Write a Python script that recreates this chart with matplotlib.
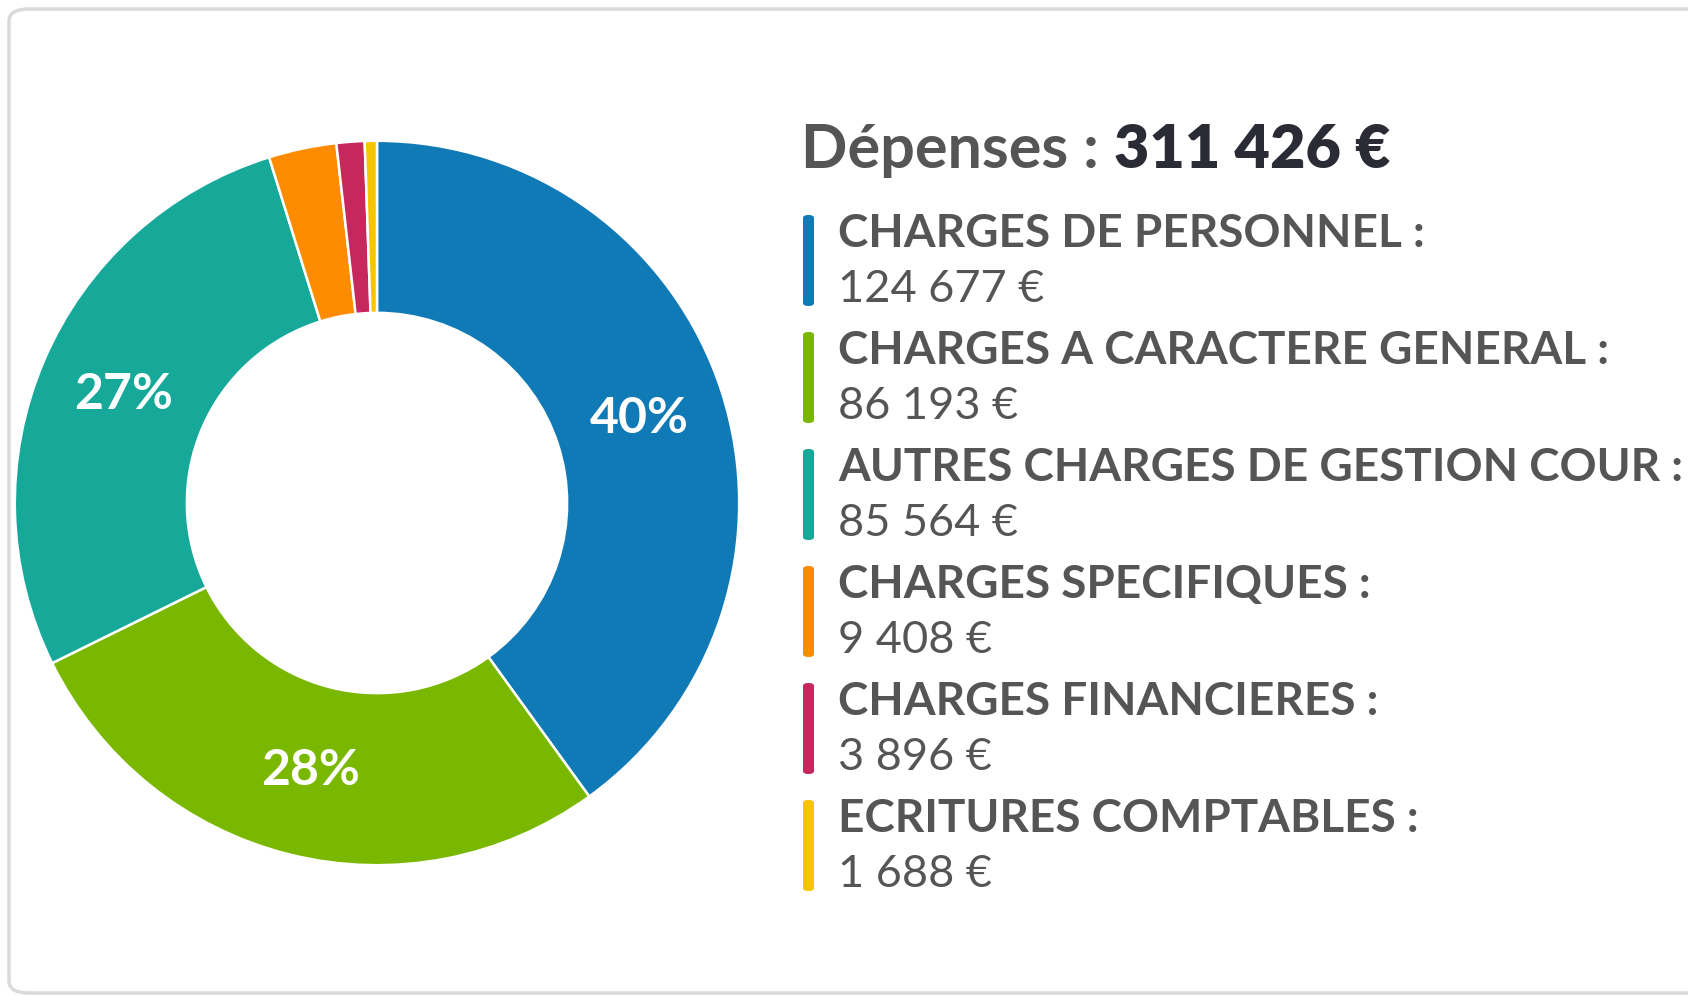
import matplotlib
matplotlib.use("Agg")
import matplotlib.pyplot as plt
from matplotlib.patches import FancyBboxPatch
import numpy as np

categories = ["CHARGES DE PERSONNEL", "CHARGES A CARACTERE GENERAL",
              "AUTRES CHARGES DE GESTION COUR", "CHARGES SPECIFIQUES",
              "CHARGES FINANCIERES", "ECRITURES COMPTABLES"]
values = [124677, 86193, 85564, 9408, 3896, 1688]
value_labels = ["124 677 €", "86 193 €", "85 564 €", "9 408 €", "3 896 €", "1 688 €"]
total_label = "311 426 €"
colors = ["#0f7ab5", "#7ab800", "#16a99a", "#ff8c00", "#c6285e", "#f6c500"]

W, H = 1688, 996
fig = plt.figure(figsize=(W / 100, H / 100), dpi=100)
fig.patch.set_facecolor("white")

def fx(x):
    return x / W

def fy(y):
    return 1 - y / H

# frame (open to the right)
frame = FancyBboxPatch((fx(9), fy(993)), fx(1800 - 9), (993 - 9) / H,
                       boxstyle="round,pad=0,rounding_size=0.012",
                       transform=fig.transFigure, facecolor="none",
                       edgecolor="#dadada", linewidth=2.5, zorder=-1)
fig.patches.append(frame)

# donut
cx, cy, R = 377, 503, 364
ax = fig.add_axes([fx(cx - R), fy(cy + R), 2 * R / W, 2 * R / H])
ax.set_zorder(2)
wedges, texts, autotexts = ax.pie(
    values, colors=colors, startangle=90, counterclock=False, radius=1,
    wedgeprops=dict(width=0.475, edgecolor="white", linewidth=1.8),
    autopct=lambda p: f"{p:.0f}%" if p > 5 else "", pctdistance=0.76,
    textprops=dict(color="white", fontsize=36, fontweight="bold", family="Lato"))
ax.set_xlim(-1.005, 1.005)
ax.set_ylim(-1.005, 1.005)
ax.set_aspect("equal")
ax.axis("off")

# title
t1 = fig.text(fx(801), fy(168), "Dépenses : ", fontsize=44, family="Lato",
              fontweight="bold", color="#555555", va="baseline", ha="left")
fig.canvas.draw()
bb = t1.get_window_extent()
fig.text(bb.x1 / W, fy(168), total_label, fontsize=44, family="Lato",
         fontweight="heavy", color="#2b2b35", va="baseline", ha="left")

# legend
step = 117
for i, (cat, vl, col) in enumerate(zip(categories, value_labels, colors)):
    y0 = 215 + i * step
    bar = FancyBboxPatch((fx(803), fy(y0 + 91)), fx(11), 91 / H,
                         boxstyle="round,pad=0,rounding_size=0.003",
                         transform=fig.transFigure, facecolor=col,
                         edgecolor="none", zorder=2)
    fig.patches.append(bar)
    fig.text(fx(838), fy(y0 + 32), cat + " :", fontsize=33, family="Lato",
             fontweight="bold", color="#555555", va="baseline", ha="left")
    fig.text(fx(838), fy(y0 + 87), vl, fontsize=32.5, family="Lato",
             fontweight="normal", color="#555555", va="baseline", ha="left")

fig.savefig("out.png", dpi=100, facecolor="white")
